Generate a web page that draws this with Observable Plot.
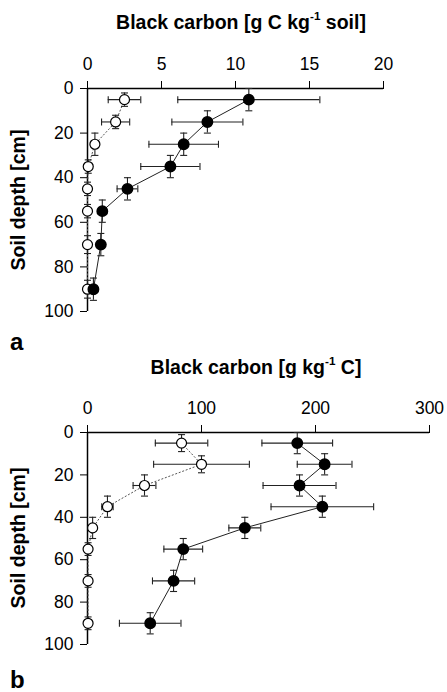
<!DOCTYPE html>
<html>
<head>
<meta charset="utf-8">
<script src="https://cdn.jsdelivr.net/npm/d3@7"></script>
<script src="https://cdn.jsdelivr.net/npm/@observablehq/plot@0.6"></script>
<style>
  html, body { margin: 0; padding: 0; background: #fff; }
  #wrap { position: relative; width: 447px; height: 692px; font-family: "Liberation Sans", Arial, sans-serif; color: #000; overflow: hidden; }
  .title { position: absolute; transform: translate(-50%, -50%); font-weight: bold; font-size: 19.5px; white-space: nowrap; }
  .title sup { font-size: 0.6em; vertical-align: 0.75em; line-height: 0; }
  .ylab { position: absolute; transform: translate(-50%, -50%) rotate(-90deg); font-weight: bold; font-size: 19.5px; white-space: nowrap; }
  .panel { position: absolute; font-weight: bold; font-size: 24px; transform: translate(0, -50%); }
  .plot { position: absolute; left: 0; }
</style>
</head>
<body>
<div id="wrap"></div>
<script>
// ---- data ----
const depths = [5, 15, 25, 35, 45, 55, 70, 90];

// panel a: g C kg-1 soil
const aFilled     = [10.9, 8.1, 6.5, 5.6, 2.7, 1.0, 0.9, 0.4];
const aFilledXErr = [4.8, 2.4, 2.35, 2.0, 0.7, 0.25, 0.2, 0.2];
const aFilledYErr = [5, 5, 5, 5, 5, 5, 5, 5];
const aOpen       = [2.5, 1.9, 0.5, 0.05, 0.0, 0.0, 0.0, 0.0];
const aOpenXErr   = [1.1, 0.95, 0.25, 0.1, 0.1, 0.1, 0.1, 0.1];
const aOpenYErr   = [3, 3, 5, 3, 3, 3, 4, 4];

// panel b: g kg-1 C
const bFilled     = [184, 208, 186, 206, 138, 84, 75.5, 55];
const bFilledXErr = [31, 24, 32, 45, 14, 17, 18.5, 27];
const bFilledYErr = [5, 5, 5, 5, 5, 5, 5, 5];
const bOpen       = [82.5, 100, 50, 17.5, 4.5, 0.5, 0.5, 0.5];
const bOpenXErr   = [23, 42, 10, 5, 3, 0.5, 0.5, 0.5];
const bOpenYErr   = [4, 4, 5, 5, 5, 3, 3, 3];

const aTicks = [0, 5, 10, 15, 20];
const bTicks = [0, 100, 200, 300];
const yTicks = [0, 20, 40, 60, 80, 100];

function rows(vals, xerr, yerr) {
  return depths.map((d, i) => ({depth: d, v: vals[i], xe: xerr[i], ye: yerr[i]}));
}

const vbar = {draw(ctx, size) { const r = Math.sqrt(size / Math.PI); ctx.moveTo(0, -r); ctx.lineTo(0, r); }};
const hbar = {draw(ctx, size) { const r = Math.sqrt(size / Math.PI); ctx.moveTo(-r, 0); ctx.lineTo(r, 0); }};

function errMarks(data) {
  const eb = {stroke: "#222", strokeWidth: 1.1};
  return [
    Plot.ruleY(data, {y: "depth", x1: d => d.v - d.xe, x2: d => d.v + d.xe, ...eb}),
    Plot.ruleX(data, {x: "v", y1: d => d.depth - d.ye, y2: d => d.depth + d.ye, ...eb}),
    Plot.dot(data, {x: d => d.v - d.xe, y: "depth", symbol: vbar, r: 3.5, ...eb}),
    Plot.dot(data, {x: d => d.v + d.xe, y: "depth", symbol: vbar, r: 3.5, ...eb}),
    Plot.dot(data, {x: "v", y: d => d.depth - d.ye, symbol: hbar, r: 3.5, ...eb}),
    Plot.dot(data, {x: "v", y: d => d.depth + d.ye, symbol: hbar, r: 3.5, ...eb})
  ];
}

function panel(opts) {
  const filled = rows(opts.filled, opts.filledXErr, opts.filledYErr);
  const open = rows(opts.open, opts.openXErr, opts.openYErr);
  return Plot.plot({
    width: 447,
    height: opts.height,
    marginLeft: 87,
    marginRight: opts.marginRight,
    marginTop: opts.marginTop,
    marginBottom: opts.marginBottom,
    style: {fontFamily: '"Liberation Sans", Arial, sans-serif', fontSize: "17.5px", color: "#000", background: "transparent"},
    x: {domain: opts.xDomain, axis: "top", ticks: opts.xTicks, tickSize: 8, tickPadding: 11, label: null},
    y: {domain: [0, 100], reverse: true, ticks: yTicks, tickSize: 7, tickPadding: 7, label: null},
    marks: [
      Plot.ruleY([0], {stroke: "#000", strokeWidth: 1.5}),
      Plot.ruleX([0], {stroke: "#000", strokeWidth: 1.5}),
      Plot.line(open, {x: "v", y: "depth", stroke: "#555", strokeWidth: 1, strokeDasharray: "1.2,2.5"}),
      Plot.line(filled, {x: "v", y: "depth", stroke: "#222", strokeWidth: 1}),
      ...errMarks(open),
      ...errMarks(filled),
      Plot.dot(open, {x: "v", y: "depth", r: 5, fill: "#fff", stroke: "#000", strokeWidth: 1.2}),
      Plot.dot(filled, {x: "v", y: "depth", r: 5.2, fill: "#000", stroke: "#000"})
    ]
  });
}

const wrap = document.getElementById("wrap");

const pa = panel({height: 340, marginRight: 64, marginTop: 88, marginBottom: 29,
  xDomain: [0, 20], xTicks: aTicks,
  filled: aFilled, filledXErr: aFilledXErr, filledYErr: aFilledYErr,
  open: aOpen, openXErr: aOpenXErr, openYErr: aOpenYErr});
pa.classList.add("plot"); pa.style.top = "0px";
wrap.appendChild(pa);

const pb = panel({height: 352, marginRight: 18, marginTop: 92, marginBottom: 48,
  xDomain: [0, 300], xTicks: bTicks,
  filled: bFilled, filledXErr: bFilledXErr, filledYErr: bFilledYErr,
  open: bOpen, openXErr: bOpenXErr, openYErr: bOpenYErr});
pb.classList.add("plot"); pb.style.top = "340px";
wrap.appendChild(pb);

function addDiv(cls, html, left, top) {
  const d = document.createElement("div");
  d.className = cls; d.innerHTML = html;
  d.style.left = left + "px"; d.style.top = top + "px";
  wrap.appendChild(d);
}
addDiv("title", "Black carbon [g C kg<sup>-1</sup> soil]", 241, 22);
addDiv("title", "Black carbon [g kg<sup>-1</sup> C]", 256, 367);
addDiv("ylab", "Soil depth [cm]", 18, 200);
addDiv("ylab", "Soil depth [cm]", 18, 538);
addDiv("panel", "a", 10, 342);
addDiv("panel", "b", 10, 680);
</script>
</body>
</html>
